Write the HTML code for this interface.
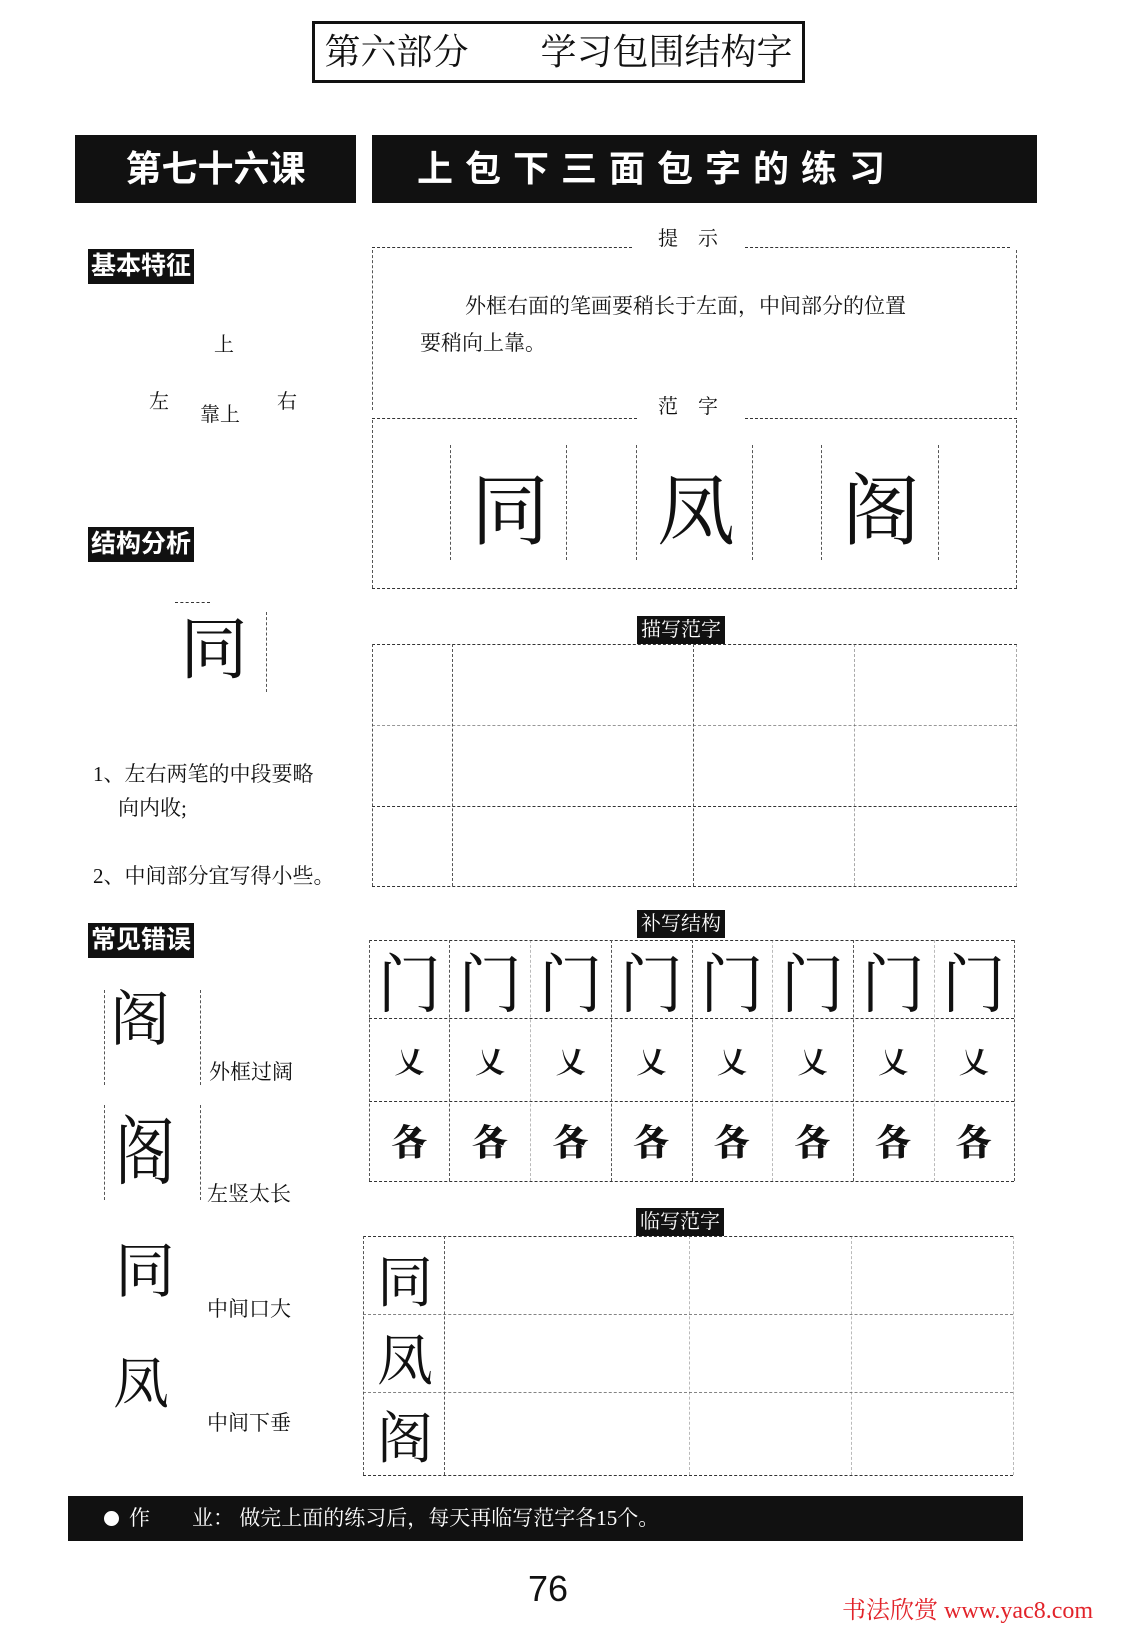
<!DOCTYPE html>
<html><head><meta charset="utf-8"><style>
body{margin:0;width:1122px;height:1628px;background:#fff;position:relative;overflow:hidden;font-family:"Liberation Serif","Noto Serif CJK SC",serif;color:#111}
.a{position:absolute;white-space:nowrap}
.blk{position:absolute;background:#111;color:#fff;font-family:"Liberation Sans","Noto Sans CJK SC",sans-serif;font-weight:bold}
.lbl{position:absolute;background:#111;color:#fff;font-family:"Liberation Sans","Noto Sans CJK SC",sans-serif;font-weight:bold;font-size:25px;line-height:35px;padding:0 3px}
.sl{position:absolute;background:#111;color:#fff;font-size:20px;line-height:28px;padding:0 4px}
.h{position:absolute;border-top:1.5px dashed #333;height:0}
.v{position:absolute;border-left:1.5px dashed #555;width:0}
.c{position:absolute;font-family:"Noto Serif CJK SC",serif;text-align:center;font-weight:bold}
</style></head><body>
<div class="a" style="left:312px;top:21px;width:487px;height:56px;border:3px solid #111;font-size:36px;line-height:56px;text-align:center">第六部分　　学习包围结构字</div>
<div class="blk" style="left:75px;top:135px;width:281px;height:68px;font-size:36px;line-height:68px;text-align:center">第七十六课</div>
<div class="blk" style="left:372px;top:135px;width:665px;height:68px;font-size:36px;line-height:68px;padding-left:45px;box-sizing:border-box;letter-spacing:12px">上包下三面包字的练习</div>

<div class="lbl" style="left:88px;top:249px">基本特征</div>
<div class="lbl" style="left:88px;top:527px">结构分析</div>
<div class="lbl" style="left:88px;top:923px">常见错误</div>

<div class="a" style="left:214px;top:328px;font-size:20px">上</div>
<div class="a" style="left:149px;top:385px;font-size:20px">左</div>
<div class="a" style="left:200px;top:398px;font-size:20px">靠上</div>
<div class="a" style="left:277px;top:385px;font-size:20px">右</div>

<div class="c" style="left:180px;top:600px;font-size:68px;line-height:90px;font-weight:normal">同</div>
<div class="h" style="left:175px;top:602px;width:35px"></div>
<div class="v" style="left:266px;top:612px;height:80px"></div>
<div class="a" style="left:93px;top:758px;font-size:21px">1、左右两笔的中段要略</div>
<div class="a" style="left:118px;top:792px;font-size:21px">向内收;</div>
<div class="a" style="left:93px;top:860px;font-size:21px">2、中间部分宜写得小些。</div>

<div class="c" style="left:110px;top:978px;font-size:60px;line-height:75px;font-weight:normal">阁</div>
<div class="v" style="left:104px;top:990px;height:95px"></div><div class="v" style="left:200px;top:990px;height:95px"></div>
<div class="a" style="left:209px;top:1056px;font-size:21px">外框过阔</div>
<div class="c" style="left:115px;top:1110px;font-size:60px;line-height:75px;transform:scaleY(1.25);font-weight:normal">阁</div>
<div class="v" style="left:104px;top:1105px;height:95px"></div><div class="v" style="left:200px;top:1105px;height:95px"></div>
<div class="a" style="left:207px;top:1178px;font-size:21px">左竖太长</div>
<div class="c" style="left:115px;top:1230px;font-size:60px;line-height:75px;font-weight:normal">同</div>
<div class="a" style="left:207px;top:1293px;font-size:21px">中间口大</div>
<div class="c" style="left:113px;top:1345px;font-size:56px;line-height:70px;font-weight:normal">凤</div>
<div class="a" style="left:207px;top:1407px;font-size:21px">中间下垂</div>

<div class="a" style="left:658px;top:222px;font-size:20px;letter-spacing:20px">提示</div>
<div class="h" style="left:372px;top:247px;width:260px"></div><div class="h" style="left:745px;top:247px;width:265px"></div>
<div class="v" style="left:372px;top:250px;height:160px"></div><div class="v" style="left:1016px;top:250px;height:160px"></div>
<div class="a" style="left:465px;top:290px;font-size:21px">外框右面的笔画要稍长于左面，中间部分的位置</div>
<div class="a" style="left:420px;top:327px;font-size:21px">要稍向上靠。</div>
<div class="a" style="left:658px;top:390px;font-size:20px;letter-spacing:20px">范字</div>
<div class="h" style="left:372px;top:418px;width:265px"></div><div class="h" style="left:745px;top:418px;width:272px"></div>
<div class="v" style="left:372px;top:420px;height:168px"></div><div class="v" style="left:1016px;top:420px;height:168px"></div>
<div class="v" style="left:450px;top:445px;height:115px"></div><div class="v" style="left:566px;top:445px;height:115px"></div>
<div class="v" style="left:636px;top:445px;height:115px"></div><div class="v" style="left:752px;top:445px;height:115px"></div>
<div class="v" style="left:821px;top:445px;height:115px"></div><div class="v" style="left:938px;top:445px;height:115px"></div>
<div class="c" style="left:455px;top:455px;width:110px;font-size:78px;line-height:100px;font-weight:normal">同</div>
<div class="c" style="left:641px;top:455px;width:110px;font-size:78px;line-height:100px;font-weight:normal">凤</div>
<div class="c" style="left:826px;top:455px;width:110px;font-size:78px;line-height:100px;font-weight:normal">阁</div>
<div class="h" style="left:372px;top:588px;width:645px"></div>

<div class="sl" style="left:637px;top:616px">描写范字</div>
<div class="h" style="left:372px;top:644px;width:645px"></div>
<div class="h" style="left:372px;top:725px;width:645px;opacity:.5"></div>
<div class="h" style="left:372px;top:806px;width:645px"></div>
<div class="h" style="left:372px;top:886px;width:645px"></div>
<div class="v" style="left:372px;top:644px;height:242px"></div>
<div class="v" style="left:452px;top:644px;height:242px"></div>
<div class="v" style="left:693px;top:644px;height:242px"></div>
<div class="v" style="left:854px;top:644px;height:242px;opacity:.5"></div>
<div class="v" style="left:1016px;top:644px;height:242px;opacity:.5"></div>

<div class="sl" style="left:637px;top:910px">补写结构</div>
<div class="h" style="left:369px;top:940px;width:645px"></div>
<div class="h" style="left:369px;top:1018px;width:645px"></div>
<div class="h" style="left:369px;top:1101px;width:645px"></div>
<div class="h" style="left:369px;top:1181px;width:645px"></div>
<div class="v" style="left:369px;top:940px;height:241px"></div>
<div class="v" style="left:449px;top:940px;height:241px"></div>
<div class="v" style="left:530px;top:940px;height:241px;opacity:.4"></div>
<div class="v" style="left:611px;top:940px;height:241px"></div>
<div class="v" style="left:692px;top:940px;height:241px"></div>
<div class="v" style="left:772px;top:940px;height:241px;opacity:.4"></div>
<div class="v" style="left:853px;top:940px;height:241px"></div>
<div class="v" style="left:934px;top:940px;height:241px;opacity:.4"></div>
<div class="v" style="left:1014px;top:940px;height:241px"></div>
<div class="c" style="left:369px;top:942px;width:645px;font-size:64px;line-height:76px;display:flex;justify-content:space-around;font-weight:normal"><span>门</span><span>门</span><span>门</span><span>门</span><span>门</span><span>门</span><span>门</span><span>门</span></div>
<div class="c" style="left:369px;top:1040px;width:645px;font-size:30px;line-height:40px;display:flex;justify-content:space-around"><span>乂</span><span>乂</span><span>乂</span><span>乂</span><span>乂</span><span>乂</span><span>乂</span><span>乂</span></div>
<div class="c" style="left:369px;top:1118px;width:645px;font-size:36px;line-height:46px;display:flex;justify-content:space-around;font-weight:900"><span>各</span><span>各</span><span>各</span><span>各</span><span>各</span><span>各</span><span>各</span><span>各</span></div>

<div class="sl" style="left:636px;top:1208px">临写范字</div>
<div class="h" style="left:363px;top:1236px;width:650px"></div>
<div class="h" style="left:363px;top:1314px;width:650px;opacity:.6"></div>
<div class="h" style="left:363px;top:1392px;width:650px;opacity:.6"></div>
<div class="h" style="left:363px;top:1475px;width:650px"></div>
<div class="v" style="left:363px;top:1236px;height:239px"></div>
<div class="v" style="left:444px;top:1236px;height:239px"></div>
<div class="v" style="left:689px;top:1236px;height:239px;opacity:.4"></div>
<div class="v" style="left:851px;top:1236px;height:239px;opacity:.4"></div>
<div class="v" style="left:1013px;top:1236px;height:239px;opacity:.4"></div>
<div class="c" style="left:370px;top:1240px;width:70px;font-size:56px;line-height:78px;font-weight:normal">同<br>凤<br>阁</div>

<div class="a" style="left:68px;top:1496px;width:955px;height:45px;background:#111;color:#fff;font-size:21px;line-height:45px"><span style="display:inline-block;width:15px;height:15px;border-radius:50%;background:#fff;margin:0 10px 0 36px;vertical-align:-1px"></span>作　　业：  做完上面的练习后，每天再临写范字各15个。</div>
<div class="a" style="left:528px;top:1568px;font-family:'Liberation Sans',sans-serif;font-size:36px">76</div>
<div class="a" style="left:842px;top:1590px;font-size:24px;color:#e2232a">书法欣赏 www.yac8.com</div>
</body></html>
